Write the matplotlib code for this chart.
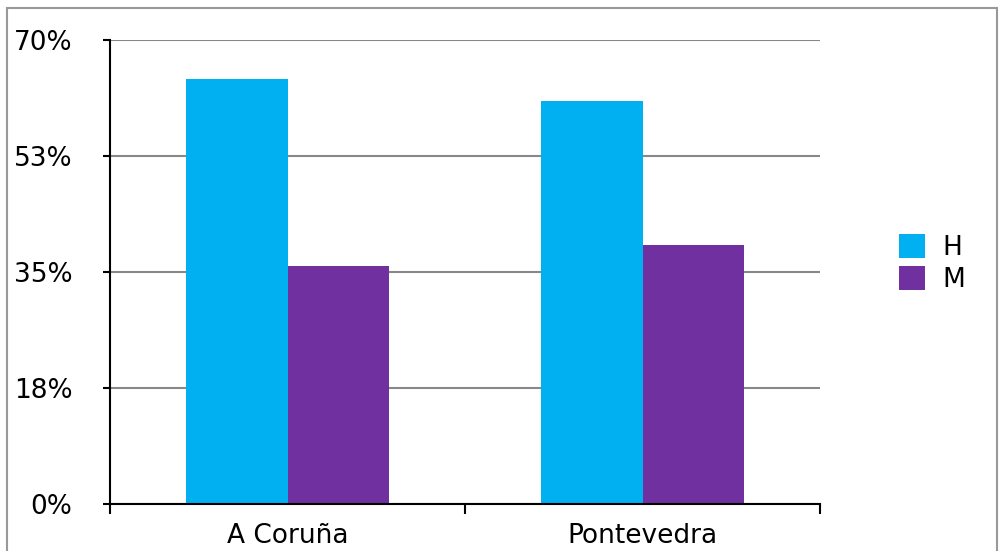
import matplotlib.pyplot as plt
from matplotlib.patches import Rectangle

# Data
categories = ['A Coruña', 'Pontevedra']
series = ['H', 'M']
values_h = [64.1, 60.8]
values_m = [35.9, 39.1]
yticks = [0, 17.5, 35, 52.5, 70]
ytick_labels = ['0%', '18%', '35%', '53%', '70%']

colors = ['#00B0F0', '#7030A0']
fs = 19

fig = plt.figure(figsize=(10, 5.51), dpi=100)
ax = fig.add_axes([0.11, 47 / 551, 0.71, 464 / 551])

x = list(range(len(categories)))
w = 0.287
ax.bar([i - w / 2 for i in x], values_h, width=w, color=colors[0], label=series[0], zorder=3)
ax.bar([i + w / 2 for i in x], values_m, width=w, color=colors[1], label=series[1], zorder=3)

ax.set_xlim(-0.5, len(categories) - 0.5)
ax.set_ylim(0, 70)

ax.set_yticks(yticks)
ax.set_yticklabels(ytick_labels, fontsize=fs)
ax.yaxis.grid(True, color='#888888', linewidth=1.5, zorder=0)
ax.tick_params(axis='y', direction='out', length=5, width=1.5, pad=22)

ax.set_xticks(x)
ax.set_xticklabels(categories, fontsize=fs)
ax.set_xticks([i - 0.5 for i in range(len(categories) + 1)], minor=True)
ax.tick_params(axis='x', which='major', length=0, pad=14)
ax.tick_params(axis='x', which='minor', direction='out', length=7, width=1.5)

for s in ['top', 'right']:
    ax.spines[s].set_visible(False)
for s in ['left', 'bottom']:
    ax.spines[s].set_linewidth(1.5)
    ax.spines[s].set_zorder(4)

fig.legend(loc='upper left', bbox_to_anchor=(0.899, 1 - 234 / 551), frameon=False,
           fontsize=fs, handlelength=1.0, handleheight=1.0, labelspacing=0.2,
           handletextpad=0.65, borderpad=0, borderaxespad=0)

fig.patches.append(Rectangle((0.007, -0.01), 0.99, 1.01 - 8 / 551, transform=fig.transFigure,
                             fill=False, edgecolor='#999999', linewidth=1.5))

fig.savefig('out.png', dpi=100)
